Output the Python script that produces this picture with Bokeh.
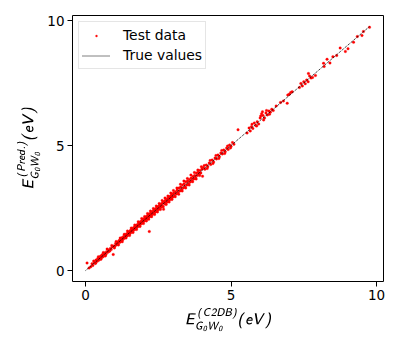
from bokeh.plotting import figure
from bokeh.models import ColumnDataSource, FixedTicker, Range1d, Legend, LegendItem
from bokeh.embed import file_html
from bokeh.resources import INLINE

# C2DB (true) band gaps and predicted values, eV
x_c2db = [
    0.05, 0.12, 0.18, 0.22, 0.25, 0.30, 0.33, 0.36, 0.40, 0.42, 0.45, 0.48, 0.50, 0.52, 0.55, 0.57,
    0.60, 0.62, 0.64, 0.66, 0.70, 0.72, 0.75, 0.78, 0.80, 0.85, 0.88, 0.92, 0.95, 0.97, 1.00,
    1.03, 1.06, 1.10, 1.12, 1.15, 1.18, 1.20, 1.22, 1.25, 1.27, 1.30, 1.32, 1.35, 1.37, 1.40, 1.42,
    1.45, 1.47, 1.50, 1.52, 1.54, 1.56, 1.58, 1.60, 1.62, 1.64, 1.66, 1.68, 1.70, 1.72, 1.74, 1.76,
    1.78, 1.80, 1.82, 1.84, 1.86, 1.88, 1.90, 1.92, 1.94, 1.96, 1.98, 2.00,
    2.02, 2.04, 2.06, 2.08, 2.10, 2.12, 2.14, 2.16, 2.18, 2.19, 2.20, 2.22, 2.24, 2.26, 2.28, 2.30,
    2.32, 2.34, 2.36, 2.38, 2.40, 2.42, 2.44, 2.46, 2.48, 2.50, 2.52, 2.54, 2.56, 2.58, 2.60, 2.62,
    2.64, 2.66, 2.68, 2.70, 2.72, 2.74, 2.76, 2.78, 2.80, 2.82, 2.84, 2.86, 2.88, 2.90, 2.92, 2.94,
    2.96, 2.98, 3.00,
    3.03, 3.06, 3.09, 3.12, 3.15, 3.18, 3.21, 3.24, 3.27, 3.30, 3.33, 3.36, 3.39, 3.42, 3.45, 3.48,
    3.51, 3.54, 3.57, 3.60, 3.63, 3.66, 3.69, 3.72, 3.75, 3.78, 3.81, 3.84, 3.87, 3.90, 3.93, 3.96, 4.00,
    4.02, 4.05, 4.10, 4.15, 4.20, 4.25, 4.30, 4.35, 4.40, 4.45, 4.50, 4.55, 4.60, 4.65, 4.70, 4.75,
    4.80, 4.85, 4.90, 4.95, 5.00, 5.05, 5.10, 5.24,
    5.55, 5.62, 5.66, 5.70, 5.75, 5.80, 5.85, 5.90, 5.95, 6.00,
    6.05, 6.08, 6.10, 6.15, 6.20, 6.25, 6.30, 6.35, 6.40, 6.45, 6.55, 6.70, 6.80, 6.93, 6.95, 7.00,
    7.05, 7.10, 7.35, 7.40, 7.45, 7.50, 7.55, 7.60, 7.65, 7.66, 7.70, 7.75, 7.80, 7.90,
    8.18, 8.20, 8.30, 8.40, 8.50, 8.63, 8.75, 8.93, 9.02,
    9.21, 9.34, 9.50, 9.55, 9.76,
    0.28, 0.35, 0.44, 0.53, 0.61, 0.68, 0.74, 0.83, 0.90, 0.99,
    1.05, 1.13, 1.19, 1.26, 1.33, 1.39, 1.44, 1.51, 1.57, 1.63, 1.69, 1.75, 1.81, 1.87, 1.93, 1.99,
    2.03, 2.09, 2.13, 2.17, 2.23, 2.27, 2.33, 2.37, 2.43, 2.47, 2.53, 2.57, 2.63, 2.67, 2.73, 2.77,
    2.83, 2.87, 2.93, 2.97,
    3.02, 3.08, 3.14, 3.20, 3.26, 3.32, 3.38, 3.44, 3.50, 3.56, 3.62, 3.68, 3.74, 3.80, 3.86, 3.92, 3.98,
    4.08, 4.18, 4.28, 4.38, 4.48, 4.58, 4.68, 4.78, 4.88, 4.98,
    5.72, 5.88, 6.02, 6.12, 6.22, 6.32,
]
y_pred = [
    0.30, 0.10, 0.15, 0.27, 0.20, 0.33, 0.28, 0.42, 0.37, 0.48, 0.41, 0.52, 0.46, 0.58, 0.51, 0.63,
    0.55, 0.66, 0.60, 0.70, 0.64, 0.75, 0.72, 0.82, 0.76, 0.88, 0.84, 0.95, 0.64, 0.98, 0.96,
    1.08, 1.02, 1.14, 1.07, 1.20, 1.13, 1.25, 1.18, 1.31, 1.22, 1.35, 1.28, 1.40, 1.32, 1.46, 1.38,
    1.50, 1.42, 1.55, 1.47, 1.60, 1.52, 1.63, 1.56, 1.68, 1.60, 1.72, 1.64, 1.75, 1.67, 1.80, 1.72,
    1.83, 1.76, 1.88, 1.80, 1.92, 1.84, 1.96, 1.88, 2.00, 1.91, 2.03, 1.97,
    2.08, 2.00, 2.12, 2.03, 2.16, 2.07, 2.20, 2.11, 2.24, 1.56, 2.15, 2.28, 2.19, 2.32, 2.23, 2.36,
    2.27, 2.40, 2.30, 2.44, 2.34, 2.48, 2.38, 2.52, 2.42, 2.56, 2.46, 2.60, 2.50, 2.64, 2.54, 2.68,
    2.58, 2.72, 2.45, 2.76, 2.66, 2.80, 2.70, 2.84, 2.74, 2.88, 2.78, 2.92, 2.82, 2.96, 2.86, 3.00,
    2.90, 3.05, 2.94,
    3.10, 3.00, 3.15, 3.06, 3.22, 3.12, 3.30, 3.18, 3.34, 3.24, 3.42, 3.30, 3.47, 3.35, 3.55, 3.42,
    3.58, 3.48, 3.64, 3.54, 3.70, 3.60, 3.76, 3.66, 3.80, 3.72, 3.90, 3.80, 3.93, 3.85, 4.00, 3.90, 4.06,
    3.77, 4.12, 4.05, 4.22, 4.15, 4.30, 4.24, 4.42, 4.34, 4.50, 4.46, 4.62, 4.55, 4.70, 4.66, 4.82,
    4.75, 4.90, 4.84, 5.02, 4.96, 5.12, 5.05, 5.63,
    5.50, 5.70, 5.58, 5.75, 5.68, 5.90, 5.80, 5.95, 5.86, 6.10,
    6.27, 6.35, 6.20, 6.10, 6.30, 6.22, 6.38, 6.33, 6.45, 6.40, 6.58, 6.72, 6.78, 6.69, 7.02, 7.05,
    7.12, 7.15, 7.32, 7.48, 7.38, 7.55, 7.47, 7.62, 7.55, 7.88, 7.78, 7.70, 7.72, 7.80,
    8.29, 8.16, 8.45, 8.30, 8.55, 8.60, 8.90, 8.76, 8.87,
    9.13, 9.36, 9.40, 9.56, 9.73,
    0.38, 0.30, 0.55, 0.45, 0.72, 0.58, 0.86, 0.78, 1.00, 0.90,
    1.16, 1.02, 1.30, 1.15, 1.45, 1.30, 1.58, 1.40, 1.70, 1.52, 1.82, 1.64, 1.95, 1.76, 2.08, 1.88,
    2.16, 1.98, 2.28, 2.05, 2.38, 2.15, 2.48, 2.24, 2.58, 2.34, 2.68, 2.44, 2.80, 2.55, 2.90, 2.64,
    2.98, 2.74, 3.10, 2.84,
    3.20, 2.95, 3.30, 3.05, 3.45, 3.18, 3.58, 3.30, 3.68, 3.42, 3.82, 3.55, 3.92, 3.66, 4.02, 3.80, 4.15,
    4.20, 4.08, 4.40, 4.28, 4.60, 4.48, 4.80, 4.68, 4.98, 4.90,
    5.85, 5.78, 6.18, 6.02, 6.40, 6.25,
]

x_ticks = [0, 5, 10]
y_ticks = [0, 5, 10]
line_x = [0.0, max(x_c2db)]
line_y = [0.0, max(x_c2db)]

p = figure(width=400, height=350, output_backend="svg", toolbar_location=None,
           x_range=Range1d(-0.45, 10.24), y_range=Range1d(-0.44, 10.2),
           min_border_left=72, min_border_right=17, min_border_top=15, min_border_bottom=69)
p.background_fill_color = "white"
p.border_fill_color = "white"
p.outline_line_color = "black"
p.outline_line_width = 1
p.grid.visible = False

src = ColumnDataSource(dict(x=x_c2db, y=y_pred))
r_pts = p.scatter("x", "y", source=src, size=2.6, marker="circle",
                  fill_color="red", line_color="red", line_width=0.3)
r_line = p.line(line_x, line_y, line_color="black", line_width=1.0, line_dash="1 1")

for ax in (p.xaxis[0], p.yaxis[0]):
    ax.axis_line_color = None
    ax.major_tick_line_color = "black"
    ax.major_tick_out = 5
    ax.major_tick_in = 0
    ax.minor_tick_line_color = None
    ax.major_label_text_font = "DejaVu Sans"
    ax.major_label_text_font_size = "13.5px"
    ax.major_label_text_color = "black"
    ax.axis_label_text_font_size = "12.5px"
    ax.axis_label_text_font_style = "normal"
    ax.axis_label_text_color = "black"
    ax.major_label_standoff = 3

p.xaxis.ticker = FixedTicker(ticks=x_ticks)
p.yaxis.ticker = FixedTicker(ticks=y_ticks)
p.xaxis.axis_label = r"$$\mathsfit{E_{G_0W_0}^{(C2DB)}(eV)}$$"
p.yaxis.axis_label = r"$$\mathsfit{E_{G_0W_0}^{(Pred.)}(eV)}$$"
p.xaxis.axis_label_standoff = 5
p.yaxis.axis_label_standoff = 4

legend = Legend(items=[LegendItem(label="Test data", renderers=[r_pts]),
                       LegendItem(label="True values", renderers=[r_line])],
                location="top_left")
legend.label_text_font = "DejaVu Sans"
legend.label_text_font_size = "13.9px"
legend.label_text_color = "black"
legend.border_line_color = "#cccccc"
legend.border_line_width = 1
legend.background_fill_alpha = 0.8
legend.margin = 6
legend.padding = 3
legend.spacing = 0
legend.label_height = 20
legend.glyph_height = 5
legend.glyph_width = 28
legend.label_standoff = 13
legend.label_text_baseline = "middle"
p.add_layout(legend, "center")

open("out.html", "w").write(file_html(p, INLINE))
